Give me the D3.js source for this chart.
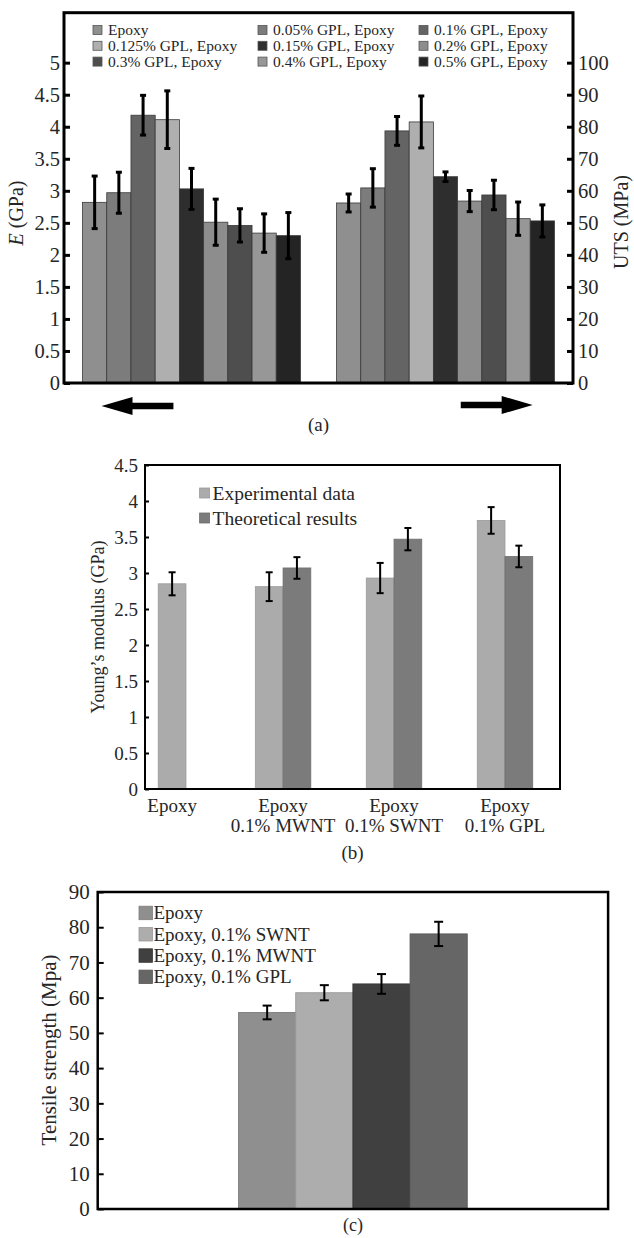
<!doctype html>
<meta charset="utf-8">

<style>
    body {
        margin: 0;
        background: #fff;
    }
    svg text {
        font-family: "Liberation Serif", serif;
        fill: #262626;
    }
</style>

<div id="chart"></div>

<script src="https://cdn.jsdelivr.net/npm/d3@7"></script>

<script>

// ---- data: (a) E and UTS vs GPL content
let groupsA = ["E", "UTS"]
let seriesA = ["Epoxy", "0.05% GPL, Epoxy", "0.1% GPL, Epoxy",
               "0.125% GPL, Epoxy", "0.15% GPL, Epoxy", "0.2% GPL, Epoxy",
               "0.3% GPL, Epoxy", "0.4% GPL, Epoxy", "0.5% GPL, Epoxy"]
let modulusA    = [2.82, 2.97, 4.18, 4.11, 3.03, 2.51, 2.46, 2.34, 2.30]
let modulusErrA = [0.41, 0.32, 0.31, 0.45, 0.32, 0.36, 0.26, 0.30, 0.36]
let utsA        = [56.2, 60.9, 78.7, 81.5, 64.4, 56.8, 58.7, 51.3, 50.6]
let utsErrA     = [2.8, 6.0, 4.5, 8.1, 1.5, 3.3, 4.6, 5.2, 5.0]
let ticksE   = [0, 0.5, 1, 1.5, 2, 2.5, 3, 3.5, 4, 4.5, 5]
let ticksUTS = [0, 10, 20, 30, 40, 50, 60, 70, 80, 90, 100]

// ---- data: (b) Young's modulus, experiment vs theory
let catsB   = ["Epoxy", "Epoxy 0.1% MWNT", "Epoxy 0.1% SWNT", "Epoxy 0.1% GPL"]
let seriesB = ["Experimental data", "Theoretical results"]
let expB     = [2.85, 2.81, 2.93, 3.73]
let expErrB  = [0.16, 0.20, 0.21, 0.185]
let theoB    = [null, 3.07, 3.47, 3.23]
let theoErrB = [null, 0.15, 0.155, 0.15]
let ticksB = [0, 0.5, 1, 1.5, 2, 2.5, 3, 3.5, 4, 4.5]

// ---- data: (c) tensile strength
let seriesC   = ["Epoxy", "Epoxy, 0.1% SWNT", "Epoxy, 0.1% MWNT", "Epoxy, 0.1% GPL"]
let tensileC    = [55.8, 61.4, 63.9, 78.1]
let tensileErrC = [1.95, 2.15, 2.8, 3.45]
let ticksC = [0, 10, 20, 30, 40, 50, 60, 70, 80, 90]

// palettes
let greysA = ["#8f8f8f", "#7c7c7c", "#646464", "#afafaf", "#2e2e2e", "#8d8d8d", "#4e4e4e", "#979797", "#242424"]
let greysB = ["#ababab", "#7b7b7b"]
let greysC = ["#8f8f8f", "#adadad", "#404040", "#666666"]

let svg = d3.select("#chart")
    .append("svg")
    .attr("width", 634)
    .attr("height", 1238)

function styleAxis(g, size, width){
    g.attr("font-family", null).attr("font-size", size)
    g.select(".domain").remove()
    g.selectAll(".tick line").attr("stroke", "#000").attr("stroke-width", width)
}

function errorBars(g, rows, cap, width){
    let eb = g.selectAll(null).data(rows.filter(d => d.v != null)).join("g")
        .attr("stroke", "#000")
        .attr("stroke-width", width)
    eb.append("line")
        .attr("x1", d => d.cx).attr("x2", d => d.cx)
        .attr("y1", d => d.y(d.v - d.e)).attr("y2", d => d.y(d.v + d.e))
    eb.append("line")
        .attr("x1", d => d.cx - cap / 2).attr("x2", d => d.cx + cap / 2)
        .attr("y1", d => d.y(d.v + d.e)).attr("y2", d => d.y(d.v + d.e))
    eb.append("line")
        .attr("x1", d => d.cx - cap / 2).attr("x2", d => d.cx + cap / 2)
        .attr("y1", d => d.y(d.v - d.e)).attr("y2", d => d.y(d.v - d.e))
}

// =============== (a)
let a = {left: 64, right: 573, top: 12.7, bottom: 383}
let gA = svg.append("g")

let xA = d3.scaleBand().domain(groupsA).range([a.left, a.right])
    .paddingInner(0.142).paddingOuter(0.073)
let xA1 = d3.scaleBand().domain(seriesA).range([0, xA.bandwidth()])
let yE = d3.scaleLinear().domain([0, 5.78]).range([a.bottom, a.top])
let yU = d3.scaleLinear().domain([0, 115.6]).range([a.bottom, a.top])
let colA = d3.scaleOrdinal().domain(seriesA).range(greysA)

let rowsA = []
seriesA.forEach((s, i) => {
    rowsA.push({g: "E", s: s, v: modulusA[i], e: modulusErrA[i], y: yE})
    rowsA.push({g: "UTS", s: s, v: utsA[i], e: utsErrA[i], y: yU})
})
rowsA.forEach(d => d.cx = xA(d.g) + xA1(d.s) + xA1.bandwidth() / 2)

gA.selectAll("rect.bar").data(rowsA).join("rect")
    .attr("class", "bar")
    .attr("x", d => xA(d.g) + xA1(d.s))
    .attr("width", xA1.bandwidth())
    .attr("y", d => d.y(d.v))
    .attr("height", d => d.y(0) - d.y(d.v))
    .attr("fill", d => colA(d.s))
    .attr("stroke", "#3a3a3a")
    .attr("stroke-width", 0.8)

errorBars(gA, rowsA, 6, 3)

gA.append("rect")
    .attr("x", a.left).attr("y", a.top)
    .attr("width", a.right - a.left).attr("height", a.bottom - a.top)
    .attr("fill", "none").attr("stroke", "#000").attr("stroke-width", 3)

gA.append("g")
    .attr("transform", "translate(" + a.left + ",0)")
    .call(d3.axisLeft(yE).tickValues(ticksE).tickFormat(d => d)
        .tickSizeInner(-6).tickSizeOuter(0).tickPadding(4))
    .call(g => styleAxis(g, 20.5, 3))

gA.append("g")
    .attr("transform", "translate(" + a.right + ",0)")
    .call(d3.axisRight(yU).tickValues(ticksUTS).tickFormat(d => d)
        .tickSizeInner(-6).tickSizeOuter(0).tickPadding(5))
    .call(g => styleAxis(g, 20.5, 3))

let labE = gA.append("text")
    .attr("transform", "translate(16,213) rotate(-90)")
    .attr("text-anchor", "middle")
    .attr("dy", "0.35em")
    .attr("font-size", 20)
labE.append("tspan").attr("font-style", "italic").text("E")
labE.append("tspan").text(" (GPa)")

gA.append("text")
    .attr("transform", "translate(621,222) rotate(-90)")
    .attr("text-anchor", "middle")
    .attr("dy", "0.35em")
    .attr("font-size", 20)
    .text("UTS (MPa)")

let legColsA = [93, 258, 419]
let legA = gA.selectAll("g.leg").data(seriesA).join("g")
    .attr("class", "leg")
    .attr("transform", (d, i) => "translate(" + legColsA[i % 3] + "," + (30 + Math.floor(i / 3) * 15.8) + ")")
legA.append("rect")
    .attr("x", 0).attr("y", -4.5).attr("width", 9).attr("height", 9)
    .attr("fill", d => colA(d)).attr("stroke", "#555").attr("stroke-width", 0.8)
legA.append("text")
    .attr("x", 15).attr("dy", "0.35em")
    .attr("font-size", 15.5)
    .text(d => d)

// arrows under the two groups
function arrow(x0, x1, y, left){
    let head = 31, hh = 9, sh = 3.3
    let p = d3.path()
    if(left){
        p.moveTo(x0, y); p.lineTo(x0 + head, y - hh); p.lineTo(x0 + head, y - sh)
        p.lineTo(x1, y - sh); p.lineTo(x1, y + sh); p.lineTo(x0 + head, y + sh)
        p.lineTo(x0 + head, y + hh); p.closePath()
    } else {
        p.moveTo(x1, y); p.lineTo(x1 - head, y - hh); p.lineTo(x1 - head, y - sh)
        p.lineTo(x0, y - sh); p.lineTo(x0, y + sh); p.lineTo(x1 - head, y + sh)
        p.lineTo(x1 - head, y + hh); p.closePath()
    }
    gA.append("path").attr("d", p.toString()).attr("fill", "#000")
}
let bwA = xA.bandwidth()
arrow(xA("E") + 0.087 * bwA, xA("E") + 0.417 * bwA, 406, true)
arrow(xA("UTS") + 0.57 * bwA, xA("UTS") + 0.9 * bwA, 405, false)

gA.append("text")
    .attr("x", (a.left + a.right) / 2).attr("y", 424)
    .attr("dy", "0.35em").attr("text-anchor", "middle")
    .attr("font-size", 19)
    .text("(a)")

// =============== (b)
let b = {left: 145, right: 560, top: 465, bottom: 789}
let gB = svg.append("g")

let xB = d3.scalePoint().domain(catsB).range([b.left, b.right]).padding(0.37).align(0.33)
let yB = d3.scaleLinear().domain([0, 4.5]).range([b.bottom, b.top])
let colB = d3.scaleOrdinal().domain(seriesB).range(greysB)
let barWB = xB.step() * 0.25

let rowsB = []
catsB.forEach((c, i) => {
    let vals = {"Experimental data": [expB[i], expErrB[i]], "Theoretical results": [theoB[i], theoErrB[i]]}
    let present = seriesB.filter(s => vals[s][0] != null)
    let x1 = d3.scaleBand().domain(present)
        .range([xB(c) - present.length * barWB / 2, xB(c) + present.length * barWB / 2])
    present.forEach(s => rowsB.push({c: c, s: s, v: vals[s][0], e: vals[s][1], y: yB,
        x: x1(s), w: x1.bandwidth(), cx: x1(s) + x1.bandwidth() / 2}))
})

gB.selectAll("rect.bar").data(rowsB).join("rect")
    .attr("class", "bar")
    .attr("x", d => d.x)
    .attr("width", d => d.w)
    .attr("y", d => yB(d.v))
    .attr("height", d => yB(0) - yB(d.v))
    .attr("fill", d => colB(d.s))
    .attr("stroke", d => d3.color(colB(d.s)).darker(0.3))
    .attr("stroke-width", 0.8)

errorBars(gB, rowsB, 7, 2)

gB.append("rect")
    .attr("x", b.left).attr("y", b.top)
    .attr("width", b.right - b.left).attr("height", b.bottom - b.top)
    .attr("fill", "none").attr("stroke", "#000").attr("stroke-width", 2)

gB.append("g")
    .attr("transform", "translate(" + b.left + ",0)")
    .call(d3.axisLeft(yB).tickValues(ticksB).tickFormat(d => d)
        .tickSizeInner(-4).tickSizeOuter(0).tickPadding(7))
    .call(g => styleAxis(g, 19, 2))

gB.append("text")
    .attr("transform", "translate(98,627) rotate(-90)")
    .attr("text-anchor", "middle")
    .attr("dy", "0.35em")
    .attr("font-size", 18)
    .text("Young\u2019s modulus (GPa)")

let xLabB = gB.selectAll("text.xlab").data(catsB).join("text")
    .attr("class", "xlab")
    .attr("text-anchor", "middle")
    .attr("font-size", 19)
xLabB.append("tspan")
    .attr("x", d => xB(d)).attr("y", 805).attr("dy", "0.35em")
    .text(d => d.split(" ")[0])
xLabB.append("tspan")
    .attr("x", d => xB(d)).attr("y", 825).attr("dy", "0.35em")
    .text(d => d.split(" ").slice(1).join(" "))

let legB = gB.selectAll("g.leg").data(seriesB).join("g")
    .attr("class", "leg")
    .attr("transform", (d, i) => "translate(199.6," + (493 + i * 25) + ")")
legB.append("rect")
    .attr("x", 0).attr("y", -5).attr("width", 10).attr("height", 10)
    .attr("fill", d => colB(d)).attr("stroke", d => d3.color(colB(d)).darker(0.3)).attr("stroke-width", 0.8)
legB.append("text")
    .attr("x", 13).attr("dy", "0.35em")
    .attr("font-size", 19.5)
    .text(d => d)

gB.append("text")
    .attr("x", (b.left + b.right) / 2).attr("y", 852)
    .attr("dy", "0.35em").attr("text-anchor", "middle")
    .attr("font-size", 19)
    .text("(b)")

// =============== (c)
let c = {left: 97.7, right: 608.1, top: 892, bottom: 1209}
let gC = svg.append("g")

let xC = d3.scaleBand().domain(["tensile"]).range([c.left, c.right]).paddingOuter(0.616)
let xC1 = d3.scaleBand().domain(seriesC).range([0, xC.bandwidth()])
let yC = d3.scaleLinear().domain([0, 90]).range([c.bottom, c.top])
let colC = d3.scaleOrdinal().domain(seriesC).range(greysC)

let rowsC = seriesC.map((s, i) => ({s: s, v: tensileC[i], e: tensileErrC[i], y: yC,
    cx: xC("tensile") + xC1(s) + xC1.bandwidth() / 2}))

gC.selectAll("rect.bar").data(rowsC).join("rect")
    .attr("class", "bar")
    .attr("x", d => xC("tensile") + xC1(d.s))
    .attr("width", xC1.bandwidth())
    .attr("y", d => yC(d.v))
    .attr("height", d => yC(0) - yC(d.v))
    .attr("fill", d => colC(d.s))
    .attr("stroke", d => d3.color(colC(d.s)).darker(0.35))
    .attr("stroke-width", 0.9)

errorBars(gC, rowsC, 9, 2)

gC.append("rect")
    .attr("x", c.left).attr("y", c.top)
    .attr("width", c.right - c.left).attr("height", c.bottom - c.top)
    .attr("fill", "none").attr("stroke", "#000").attr("stroke-width", 2.5)

gC.append("g")
    .attr("transform", "translate(" + c.left + ",0)")
    .call(d3.axisLeft(yC).tickValues(ticksC).tickFormat(d => d)
        .tickSizeInner(-6).tickSizeOuter(0).tickPadding(8))
    .call(g => styleAxis(g, 21, 2))

gC.append("text")
    .attr("transform", "translate(49,1050) rotate(-90)")
    .attr("text-anchor", "middle")
    .attr("dy", "0.35em")
    .attr("font-size", 21)
    .text("Tensile strength (Mpa)")

let legC = gC.selectAll("g.leg").data(seriesC).join("g")
    .attr("class", "leg")
    .attr("transform", (d, i) => "translate(139," + (912.7 + i * 21.3) + ")")
legC.append("rect")
    .attr("x", 0).attr("y", -6.5).attr("width", 13.5).attr("height", 13.5)
    .attr("fill", d => colC(d)).attr("stroke", d => d3.color(colC(d)).darker(0.35)).attr("stroke-width", 0.8)
legC.append("text")
    .attr("x", 14.5).attr("dy", "0.35em")
    .attr("font-size", 19)
    .text(d => d)

gC.append("text")
    .attr("x", (c.left + c.right) / 2).attr("y", 1225)
    .attr("dy", "0.35em").attr("text-anchor", "middle")
    .attr("font-size", 18)
    .text("(c)")

</script>
